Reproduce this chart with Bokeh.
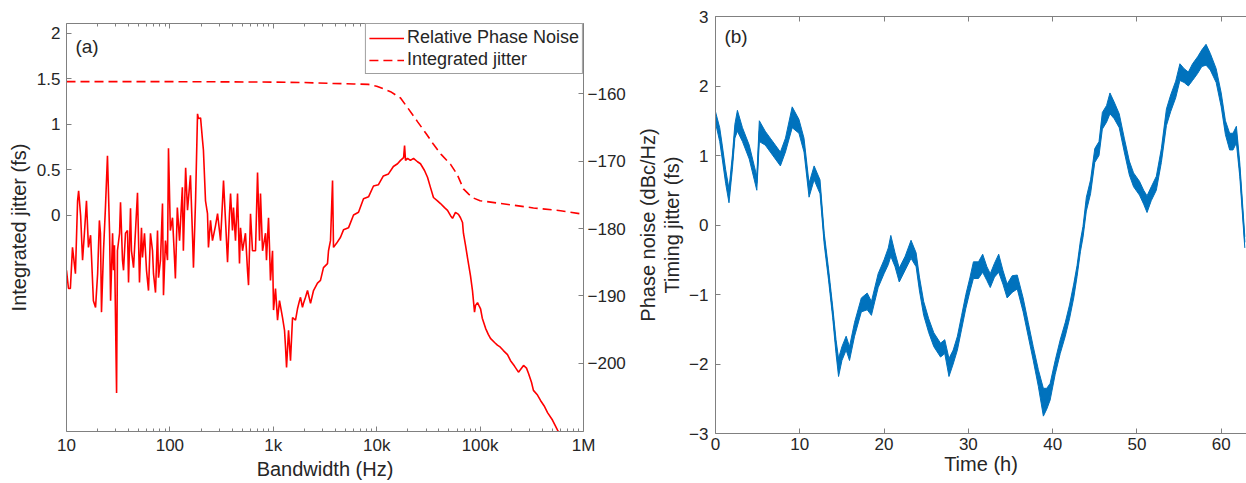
import numpy as np
from bokeh.plotting import figure
from bokeh.models import (Range1d, LinearAxis, LogAxis, FixedTicker, Legend, LegendItem,
                          Label, ColumnDataSource, CustomJSTickFormatter)
from bokeh.layouts import row, column
from bokeh.embed import file_html
from bokeh.resources import INLINE

# ---------------- data : panel (a) ----------------
pn_freq = [
    10.0, 10.45, 10.9, 11.43, 12.2, 12.8, 13.1, 13.7, 14.3, 14.9, 15.6, 16.3, 17.1, 18.2, 19.1, 20.0,
    20.8, 21.3, 21.8, 22.8, 23.8, 24.9, 26.1, 26.7, 27.9, 28.5, 29.1, 30.5, 31.1, 32.6, 33.3, 34.8, 35.6, 37.2, 38.9, 39.8, 41.6,
    42.5, 44.5, 46.5, 48.6, 50.8, 53.1, 54.3, 56.8, 59.4, 62.1, 64.9, 67.9, 69.4, 72.6, 75.9, 77.6, 81.1, 84.8, 86.7, 90.6, 94.8, 96.9, 101,
    106, 111, 113, 118, 124, 132, 135, 142, 148, 158, 166, 169, 177, 185, 189, 198, 207, 211, 221, 231, 236, 247, 258,
    276, 289, 309, 323, 330, 345, 361, 377, 386, 403, 412, 431, 451, 471, 482, 504, 538, 563, 576, 602, 629, 673,
    704, 736, 752, 787, 841, 859, 899, 919, 939, 983, 1005, 1050, 1099, 1148, 1228, 1284, 1313, 1343, 1404, 1467,
    1535, 1640, 1714, 1792, 1833, 1915, 1959, 2048, 2142, 2291, 2449, 2674, 2859, 3057, 3342, 3420, 3573, 3741, 3822,
    4087, 4467, 4775, 5334, 5970, 6670, 7453, 8337, 9310, 10400, 11600, 13000, 14500, 15900, 17000, 18200, 18600, 19000, 19900, 21200, 22700,
    24800, 26500, 29000, 31000, 33100, 35400, 38700, 41400, 45300, 48400, 51800, 54100, 57800, 61800, 64600, 67600, 69000, 72300, 75500, 80700, 84400, 88300, 90300, 94400, 98600, 101000,
    105000, 113000, 120000, 126000, 138000, 147000, 157000, 168000, 184000, 197000, 215000, 235000, 246000, 263000, 281000, 294000, 314000, 328000, 359000, 384000, 420000, 449000, 501000, 561000, 670000,
]
pn_db = [
    -186.2, -188.9, -188.9, -182.8, -186.7, -175.9, -174.4, -178.1, -184.7, -180.7, -175.9, -182.8, -181.0, -190.7, -191.7, -186.7,
    -178.8, -180.7, -192.4, -183.3, -176.9, -169.2, -180.7, -190.7, -180.7, -186.2, -182.5, -204.4, -183.3, -180.7, -176.1, -184.7, -186.2, -180.7, -180.3, -188.0, -177.0,
    -183.3, -185.8, -180.3, -174.7, -188.0, -179.9, -184.3, -180.7, -186.2, -189.2, -180.7, -183.3, -186.7, -189.5, -180.3, -187.3, -184.7, -176.3, -189.9, -181.8, -184.7, -168.1, -180.3,
    -178.4, -184.7, -187.4, -176.9, -181.8, -173.9, -183.3, -171.0, -177.3, -172.1, -181.8, -185.8, -175.9, -163.0, -163.7, -163.6, -167.0, -168.4, -175.9, -177.8, -182.8, -178.8, -181.8,
    -179.6, -177.8, -181.8, -175.9, -172.9, -178.8, -185.0, -177.8, -174.8, -180.3, -176.9, -181.8, -174.8, -185.2, -179.9, -183.3, -180.7, -186.2, -188.4, -177.8, -183.3, -183.3,
    -171.7, -181.8, -174.8, -183.3, -180.7, -184.7, -178.4, -182.8, -187.7, -183.3, -192.1, -188.9, -193.6, -190.7, -193.2, -195.1, -197.6, -200.6, -195.1, -199.6,
    -193.2, -193.6, -191.9, -190.7, -190.2, -191.7, -191.1, -190.2, -189.2, -191.1, -189.2, -188.1, -187.7, -185.8, -185.2, -183.3, -181.8, -172.9, -182.8,
    -182.2, -181.3, -180.2, -179.9, -178.0, -177.6, -175.6, -175.3, -173.7, -173.5, -172.2, -171.9, -170.8, -170.4, -169.9, -169.5, -167.7, -169.9, -169.6, -169.9, -169.6,
    -170.1, -170.4, -171.4, -172.4, -173.9, -175.4, -175.9, -176.3, -176.9, -177.3, -178.1, -178.5, -177.6, -177.9, -178.4, -179.1, -180.7, -182.5, -184.3, -187.0, -189.2, -192.4, -191.4, -191.0, -191.6, -191.9,
    -193.3, -194.8, -195.7, -196.3, -196.9, -197.3, -197.6, -198.1, -198.7, -199.6, -200.4, -201.3, -200.9, -200.3, -200.7, -201.5, -202.8, -204.0, -204.7, -205.5, -206.4, -207.3, -208.4, -209.9, -212.0,
]
ij_freq = [10, 30, 100, 300, 1000, 2000, 3800, 6000, 8300, 10000, 13600, 17000, 20000, 24800, 30000,
           35400, 42000, 51800, 60000, 69000, 78000, 86000, 100000, 157000, 328000, 600000, 1000000]
ij_fs = [1.47, 1.47, 1.47, 1.468, 1.465, 1.46, 1.45, 1.445, 1.44, 1.42, 1.36, 1.29, 1.18, 1.03, 0.9,
         0.78, 0.67, 0.56, 0.45, 0.29, 0.23, 0.19, 0.16, 0.13, 0.08, 0.05, 0.01]

x_ticks_a = [10, 100, 1000, 10000, 100000, 1000000]
x_tick_labels_a = ["10", "100", "1k", "10k", "100k", "1M"]
y_ticks_a = [0, 0.5, 1, 1.5, 2]
y_tick_labels_a = ["0", "0.5", "1", "1.5", "2"]
pn_ticks = [-200, -190, -180, -170, -160]

# ---------------- data : panel (b) ----------------
t_hours = [
    0.0, 0.5, 0.8, 1.2, 1.6, 2.0, 2.3, 2.6, 3.2, 4.0,
    4.6, 4.9, 5.2, 5.9, 6.5, 7.1, 7.7, 8.3, 9.1, 9.9,
    10.5, 11.1, 11.7, 12.4, 12.9, 13.4, 13.9, 14.3, 14.6, 15.0,
    15.5, 15.9, 16.5, 17.3, 18.0, 18.5, 19.3, 20.0, 20.5, 20.8,
    21.3, 21.8, 22.5, 23.2, 23.8, 24.2, 24.7, 25.3, 25.9, 26.7,
    27.2, 27.7, 28.2, 28.7, 29.2, 29.7, 30.2, 30.6, 31.2, 31.7,
    32.2, 32.6, 33.1, 33.6, 34.1, 34.6, 35.2, 35.8, 36.5, 37.1,
    37.7, 38.3, 38.9, 39.3, 39.7, 40.3, 40.9, 41.5, 42.0, 42.5,
    42.9, 43.3, 43.6, 44.0, 44.5, 45.0, 45.5, 45.9, 46.4, 46.8,
    47.3, 47.9, 48.5, 49.1, 49.6, 50.3, 50.8, 51.2, 51.7, 52.3,
    52.9, 53.5, 54.0, 54.6, 55.1, 55.6, 56.1, 56.6, 57.2, 57.7,
    58.2, 58.7, 59.4, 60.0, 60.5, 61.0, 61.4, 61.8, 62.2, 62.8,
]
jitter_fs = [
    1.55, 1.3, 1.05, 0.7, 0.42, 0.9, 1.35, 1.5, 1.3, 1.05,
    0.75, 0.6, 1.35, 1.25, 1.15, 1.05, 0.95, 1.15, 1.55, 1.42,
    1.15, 0.5, 0.75, 0.55, -0.2, -0.7, -1.25, -1.75, -2.05, -1.85,
    -1.7, -1.85, -1.5, -1.15, -1.1, -1.2, -0.8, -0.6, -0.45, -0.3,
    -0.5, -0.72, -0.55, -0.35, -0.5, -0.85, -1.2, -1.45, -1.65, -1.8,
    -1.75, -2.05, -1.9, -1.7, -1.4, -1.1, -0.85, -0.65, -0.65, -0.55,
    -0.7, -0.8, -0.65, -0.55, -0.75, -0.95, -0.85, -0.82, -1.15, -1.5,
    -1.85, -2.2, -2.55, -2.5, -2.4, -2.05, -1.75, -1.5, -1.25, -0.95,
    -0.66, -0.3, -0.1, 0.3, 0.55, 1.0, 1.1, 1.5, 1.6, 1.75,
    1.65, 1.5, 1.15, 0.82, 0.65, 0.53, 0.4, 0.3, 0.45, 0.6,
    1.0, 1.55, 1.75, 1.95, 2.2, 2.15, 2.1, 2.2, 2.3, 2.4,
    2.45, 2.35, 2.15, 1.8, 1.4, 1.2, 1.2, 1.3, 0.8, -0.25,
]
jitter_spread = [
    0.08, 0.1, 0.1, 0.1, 0.1, 0.1, 0.1, 0.15, 0.1, 0.1,
    0.1, 0.1, 0.15, 0.1, 0.1, 0.1, 0.1, 0.1, 0.15, 0.1,
    0.1, 0.1, 0.1, 0.1, 0.08, 0.08, 0.08, 0.1, 0.13, 0.1,
    0.1, 0.1, 0.1, 0.1, 0.12, 0.1, 0.1, 0.1, 0.12, 0.15,
    0.1, 0.1, 0.1, 0.13, 0.1, 0.1, 0.1, 0.1, 0.1, 0.1,
    0.1, 0.13, 0.1, 0.1, 0.1, 0.1, 0.1, 0.12, 0.12, 0.13,
    0.1, 0.1, 0.1, 0.13, 0.1, 0.1, 0.12, 0.1, 0.1, 0.1,
    0.1, 0.12, 0.2, 0.15, 0.12, 0.1, 0.1, 0.1, 0.1, 0.1,
    0.08, 0.08, 0.08, 0.1, 0.1, 0.1, 0.1, 0.12, 0.12, 0.15,
    0.12, 0.1, 0.1, 0.1, 0.1, 0.1, 0.1, 0.12, 0.1, 0.1,
    0.1, 0.12, 0.12, 0.12, 0.12, 0.1, 0.1, 0.12, 0.12, 0.12,
    0.15, 0.12, 0.1, 0.1, 0.1, 0.12, 0.12, 0.12, 0.1, 0.08,
]
x_ticks_b = [0, 10, 20, 30, 40, 50, 60]
y_ticks_b = [-3, -2, -1, 0, 1, 2, 3]

# ---------------- style ----------------
FONT = "Liberation Sans"
TXT = "#262626"
AXC = "#808080"
RED = "#FF0000"
BLUE = "#0072BD"


def style_axis(ax, tick_size="17px"):
    ax.axis_line_color = AXC
    ax.major_tick_line_color = AXC
    ax.minor_tick_line_color = AXC
    ax.major_tick_in = 5
    ax.major_tick_out = 0
    ax.minor_tick_in = 3
    ax.minor_tick_out = 0
    ax.major_label_text_font = FONT
    ax.major_label_text_font_size = tick_size
    ax.major_label_text_color = TXT
    ax.axis_label_text_font = FONT
    ax.axis_label_text_font_size = "20px"
    ax.axis_label_text_font_style = "normal"
    ax.axis_label_text_color = TXT


blank = CustomJSTickFormatter(code="return ''")

# ---------------- panel (a) ----------------
p1 = figure(width=633, height=483, x_axis_type="log",
            x_range=Range1d(10, 1e6), y_range=Range1d(-2.38, 2.11),
            output_backend="svg", toolbar_location=None,
            min_border_left=66, min_border_right=50, min_border_top=23, min_border_bottom=52)
p1.extra_y_ranges = {"pn": Range1d(-210.1, -149.6)}
p1.grid.visible = False
p1.outline_line_color = None

minor_a = [m * 10 ** e for e in range(1, 6) for m in range(2, 10)]
p1.xaxis.ticker = FixedTicker(ticks=x_ticks_a, minor_ticks=minor_a)
p1.xaxis.major_label_overrides = {k: v for k, v in zip(x_ticks_a, x_tick_labels_a)}
p1.xaxis.axis_label = "Bandwidth (Hz)"
p1.yaxis.ticker = FixedTicker(ticks=y_ticks_a, minor_ticks=[])
p1.yaxis.major_label_overrides = {k: v for k, v in zip(y_ticks_a, y_tick_labels_a)}
p1.yaxis.axis_label = "Integrated jitter (fs)"
for ax in p1.xaxis + p1.yaxis:
    style_axis(ax)
p1.xaxis.major_label_standoff = 4
p1.xaxis.axis_label_standoff = 0
p1.yaxis.major_label_standoff = 6
p1.yaxis.axis_label_standoff = 4

ax_pn = LinearAxis(y_range_name="pn", ticker=FixedTicker(ticks=pn_ticks, minor_ticks=[]))
style_axis(ax_pn)
ax_pn.major_label_standoff = 4
p1.add_layout(ax_pn, "right")

top_a = LogAxis(ticker=FixedTicker(ticks=x_ticks_a, minor_ticks=minor_a), formatter=blank)
style_axis(top_a, "1px")
top_a.major_label_standoff = 0
p1.add_layout(top_a, "above")

src_pn = ColumnDataSource(dict(f=pn_freq, db=pn_db))
r_pn = p1.line("f", "db", source=src_pn, y_range_name="pn", line_color=RED, line_width=1.6)
src_ij = ColumnDataSource(dict(f=ij_freq, v=ij_fs))
r_ij = p1.line("f", "v", source=src_ij, line_color=RED, line_width=1.6, line_dash="9 5")

legend = Legend(items=[LegendItem(label="Relative Phase Noise", renderers=[r_pn]),
                       LegendItem(label="Integrated jitter", renderers=[r_ij])],
                location="top_right", margin=0, padding=3, spacing=1,
                glyph_width=35, glyph_height=20, label_height=20, label_standoff=3,
                label_text_font=FONT, label_text_font_size="18px", label_text_color=TXT,
                border_line_color="#404040", border_line_width=1,
                background_fill_color="white", background_fill_alpha=1)
p1.add_layout(legend)

p1.add_layout(Label(x=12.2, y=1.97, text="(a)", text_baseline="top", text_font=FONT,
                    text_font_size="19px", text_color=TXT))

# ---------------- panel (b) ----------------
p2 = figure(width=613, height=483, x_range=Range1d(0, 63), y_range=Range1d(-3, 3),
            output_backend="svg", toolbar_location=None,
            min_border_left=80, min_border_right=0, min_border_top=16, min_border_bottom=50)
p2.grid.visible = False
p2.outline_line_color = None
p2.xaxis.ticker = FixedTicker(ticks=x_ticks_b, minor_ticks=[])
p2.yaxis.ticker = FixedTicker(ticks=y_ticks_b, minor_ticks=[])
p2.xaxis.axis_label = "Time (h)"
p2.yaxis.axis_label = "Timing jitter (fs)"
for ax in p2.xaxis + p2.yaxis:
    style_axis(ax)
p2.xaxis.major_label_standoff = 4
p2.xaxis.axis_label_standoff = 0
p2.yaxis.major_label_standoff = 7
p2.yaxis.axis_label_standoff = 3

# title of panel (a)'s right-hand phase-noise axis, sitting in the gap between the panels
pn_title = LinearAxis(ticker=FixedTicker(ticks=[], minor_ticks=[]), formatter=blank,
                      axis_label="Phase noise (dBc/Hz)")
style_axis(pn_title, "1px")
pn_title.axis_line_color = None
pn_title.major_tick_line_color = None
pn_title.minor_tick_line_color = None
pn_title.major_label_standoff = 0
pn_title.axis_label_standoff = 0
p2.add_layout(pn_title, "left")

top_b = LinearAxis(ticker=FixedTicker(ticks=x_ticks_b, minor_ticks=[]), formatter=blank)
style_axis(top_b, "1px")
top_b.major_label_standoff = 0
p2.add_layout(top_b, "above")

tj = np.array(jitter_fs)
sp = np.array(jitter_spread)
src_b = ColumnDataSource(dict(t=t_hours, c=jitter_fs, lo=(tj - sp).tolist(), hi=(tj + sp).tolist()))
p2.varea(x="t", y1="lo", y2="hi", source=src_b, fill_color=BLUE, fill_alpha=1)
p2.line("t", "lo", source=src_b, line_color=BLUE, line_width=1)
p2.line("t", "hi", source=src_b, line_color=BLUE, line_width=1)
p2.line("t", "c", source=src_b, line_color=BLUE, line_width=1.2)

p2.add_layout(Label(x=1.06, y=2.86, text="(b)", text_baseline="top", text_font=FONT,
                    text_font_size="19px", text_color=TXT))

layout = row(p1, column(p2))
open("out.html", "w").write(file_html(layout, INLINE))
